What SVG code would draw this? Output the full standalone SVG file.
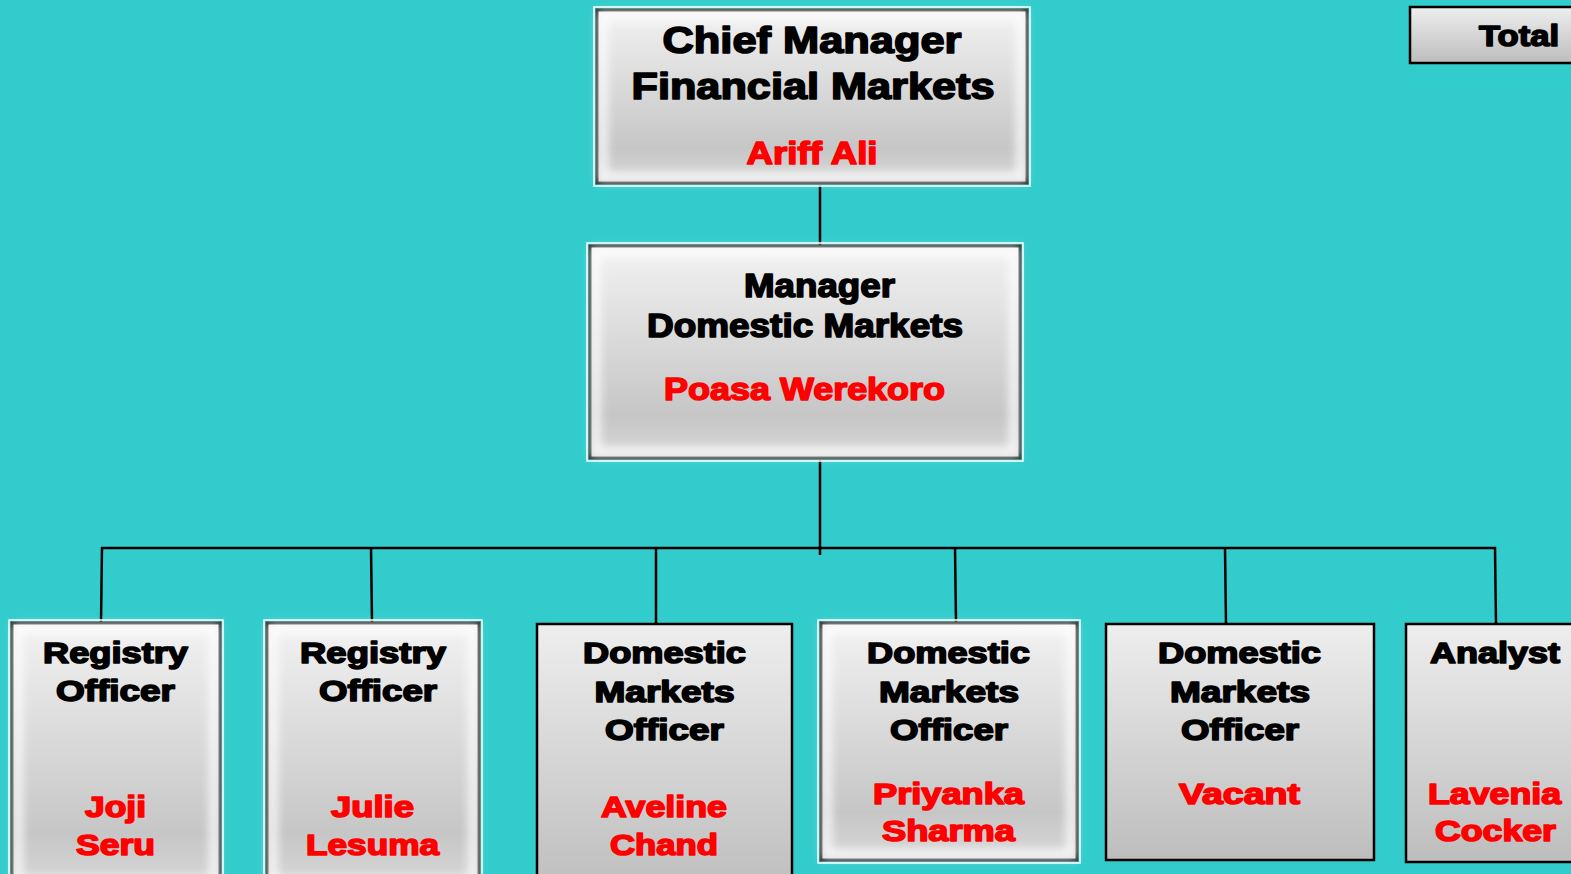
<svg xmlns="http://www.w3.org/2000/svg" width="1571" height="874" viewBox="0 0 1571 874">
<style>
.t{font-family:"Liberation Sans",Arial,sans-serif;font-weight:bold;text-anchor:middle;fill:#000;stroke:#000;stroke-width:1.6;stroke-linejoin:round}
.r{fill:#ff0000;stroke:#ff0000}
.plain{fill:url(#gPlain);stroke:#000;stroke-width:2.5}
.bev{fill:url(#gBev);stroke:#2a2a2a;stroke-width:3}
.outer{fill:none;stroke:#fff;stroke-width:1.5}
.hl{fill:none;stroke:#fff;stroke-width:10;opacity:0.75;filter:url(#blur)}
.conn{stroke:#000;stroke-width:2.5;fill:none}
</style>
<defs>
<linearGradient id="gPlain" x1="0" y1="0" x2="0" y2="1">
<stop offset="0" stop-color="#eeeeee"/>
<stop offset="1" stop-color="#bdbdbd"/>
</linearGradient>
<linearGradient id="gBev" x1="0" y1="0" x2="0" y2="1">
<stop offset="0" stop-color="#f2f2f2"/>
<stop offset="0.8" stop-color="#c6c6c6"/>
<stop offset="1" stop-color="#d8d8d8"/>
</linearGradient>
<filter id="blur" x="-10%" y="-10%" width="120%" height="120%">
<feGaussianBlur stdDeviation="4"/>
</filter>
</defs>
<rect width="1571" height="874" fill="#33cccc"/>
<g id="connectors">
<line class="conn" x1="820" y1="185" x2="820" y2="245"/>
<line class="conn" x1="820" y1="460" x2="820" y2="555"/>
<line class="conn" x1="101" y1="548" x2="1496" y2="548"/>
<line class="conn" x1="102" y1="547" x2="101" y2="623"/>
<line class="conn" x1="371" y1="547" x2="372" y2="623"/>
<line class="conn" x1="656" y1="547" x2="656" y2="625"/>
<line class="conn" x1="955" y1="547" x2="956" y2="623"/>
<line class="conn" x1="1225" y1="547" x2="1226" y2="625"/>
<line class="conn" x1="1495" y1="547" x2="1496" y2="625"/>
</g>
<g id="node-chief">
<rect class="outer" x="594" y="7" width="436" height="179"/>
<rect class="bev" x="597" y="10" width="430" height="173"/>
<rect class="hl" x="603" y="16" width="418" height="161"/>
<text class="t" x="812" y="53" font-size="36" textLength="299" lengthAdjust="spacingAndGlyphs">Chief Manager</text>
<text class="t" x="813" y="99" font-size="36" textLength="363" lengthAdjust="spacingAndGlyphs">Financial Markets</text>
<text class="t r" x="812" y="164" font-size="32" textLength="131" lengthAdjust="spacingAndGlyphs">Ariff Ali</text>
</g>
<g id="node-total">
<rect class="plain" x="1410" y="7" width="175" height="56"/>
<text class="t" x="1519" y="46" font-size="30" textLength="80" lengthAdjust="spacingAndGlyphs">Total</text>
</g>
<g id="node-manager">
<rect class="outer" x="587" y="243" width="436" height="218"/>
<rect class="bev" x="590" y="246" width="430" height="212"/>
<rect class="hl" x="596" y="252" width="418" height="200"/>
<text class="t" x="819.5" y="297" font-size="33" textLength="151" lengthAdjust="spacingAndGlyphs">Manager</text>
<text class="t" x="805" y="337" font-size="33" textLength="316" lengthAdjust="spacingAndGlyphs">Domestic Markets</text>
<text class="t r" x="804.5" y="400" font-size="32" textLength="281" lengthAdjust="spacingAndGlyphs">Poasa Werekoro</text>
</g>
<g id="node-registry1">
<rect class="outer" x="9" y="620" width="214" height="270"/>
<rect class="bev" x="12" y="623" width="208" height="264"/>
<rect class="hl" x="18" y="629" width="196" height="252"/>
<text class="t" x="115.5" y="663" font-size="29" textLength="145" lengthAdjust="spacingAndGlyphs">Registry</text>
<text class="t" x="115.5" y="701" font-size="29" textLength="119" lengthAdjust="spacingAndGlyphs">Officer</text>
<text class="t r" x="115.5" y="817" font-size="29" textLength="61" lengthAdjust="spacingAndGlyphs">Joji</text>
<text class="t r" x="115.5" y="855" font-size="29" textLength="79" lengthAdjust="spacingAndGlyphs">Seru</text>
</g>
<g id="node-registry2">
<rect class="outer" x="264" y="620" width="218" height="270"/>
<rect class="bev" x="267" y="623" width="212" height="264"/>
<rect class="hl" x="273" y="629" width="200" height="252"/>
<text class="t" x="373" y="663" font-size="29" textLength="146" lengthAdjust="spacingAndGlyphs">Registry</text>
<text class="t" x="378" y="701" font-size="29" textLength="118" lengthAdjust="spacingAndGlyphs">Officer</text>
<text class="t r" x="372.5" y="817" font-size="29" textLength="83" lengthAdjust="spacingAndGlyphs">Julie</text>
<text class="t r" x="372.5" y="855" font-size="29" textLength="133" lengthAdjust="spacingAndGlyphs">Lesuma</text>
</g>
<g id="node-dmo1">
<rect class="plain" x="537" y="624" width="255" height="270"/>
<text class="t" x="664.5" y="663" font-size="29" textLength="163" lengthAdjust="spacingAndGlyphs">Domestic</text>
<text class="t" x="664.5" y="702" font-size="29" textLength="140" lengthAdjust="spacingAndGlyphs">Markets</text>
<text class="t" x="664.5" y="740" font-size="29" textLength="119" lengthAdjust="spacingAndGlyphs">Officer</text>
<text class="t r" x="664" y="817" font-size="29" textLength="126" lengthAdjust="spacingAndGlyphs">Aveline</text>
<text class="t r" x="664" y="855" font-size="29" textLength="108" lengthAdjust="spacingAndGlyphs">Chand</text>
</g>
<g id="node-dmo2">
<rect class="outer" x="818" y="620" width="262" height="243"/>
<rect class="bev" x="821" y="623" width="256" height="237"/>
<rect class="hl" x="827" y="629" width="244" height="225"/>
<text class="t" x="948.5" y="663" font-size="29" textLength="163" lengthAdjust="spacingAndGlyphs">Domestic</text>
<text class="t" x="949" y="702" font-size="29" textLength="140" lengthAdjust="spacingAndGlyphs">Markets</text>
<text class="t" x="949" y="740" font-size="29" textLength="118" lengthAdjust="spacingAndGlyphs">Officer</text>
<text class="t r" x="948.5" y="804" font-size="29" textLength="151" lengthAdjust="spacingAndGlyphs">Priyanka</text>
<text class="t r" x="948.5" y="841" font-size="29" textLength="133" lengthAdjust="spacingAndGlyphs">Sharma</text>
</g>
<g id="node-dmo3">
<rect class="plain" x="1106" y="624" width="268" height="236"/>
<text class="t" x="1239.5" y="663" font-size="29" textLength="163" lengthAdjust="spacingAndGlyphs">Domestic</text>
<text class="t" x="1240" y="702" font-size="29" textLength="140" lengthAdjust="spacingAndGlyphs">Markets</text>
<text class="t" x="1240" y="740" font-size="29" textLength="118" lengthAdjust="spacingAndGlyphs">Officer</text>
<text class="t r" x="1239.5" y="804" font-size="29" textLength="121" lengthAdjust="spacingAndGlyphs">Vacant</text>
</g>
<g id="node-analyst">
<rect class="plain" x="1406" y="624" width="180" height="238"/>
<text class="t" x="1495" y="663" font-size="29" textLength="130" lengthAdjust="spacingAndGlyphs">Analyst</text>
<text class="t r" x="1494.5" y="804" font-size="29" textLength="133" lengthAdjust="spacingAndGlyphs">Lavenia</text>
<text class="t r" x="1495.5" y="841" font-size="29" textLength="121" lengthAdjust="spacingAndGlyphs">Cocker</text>
</g>
</svg>
